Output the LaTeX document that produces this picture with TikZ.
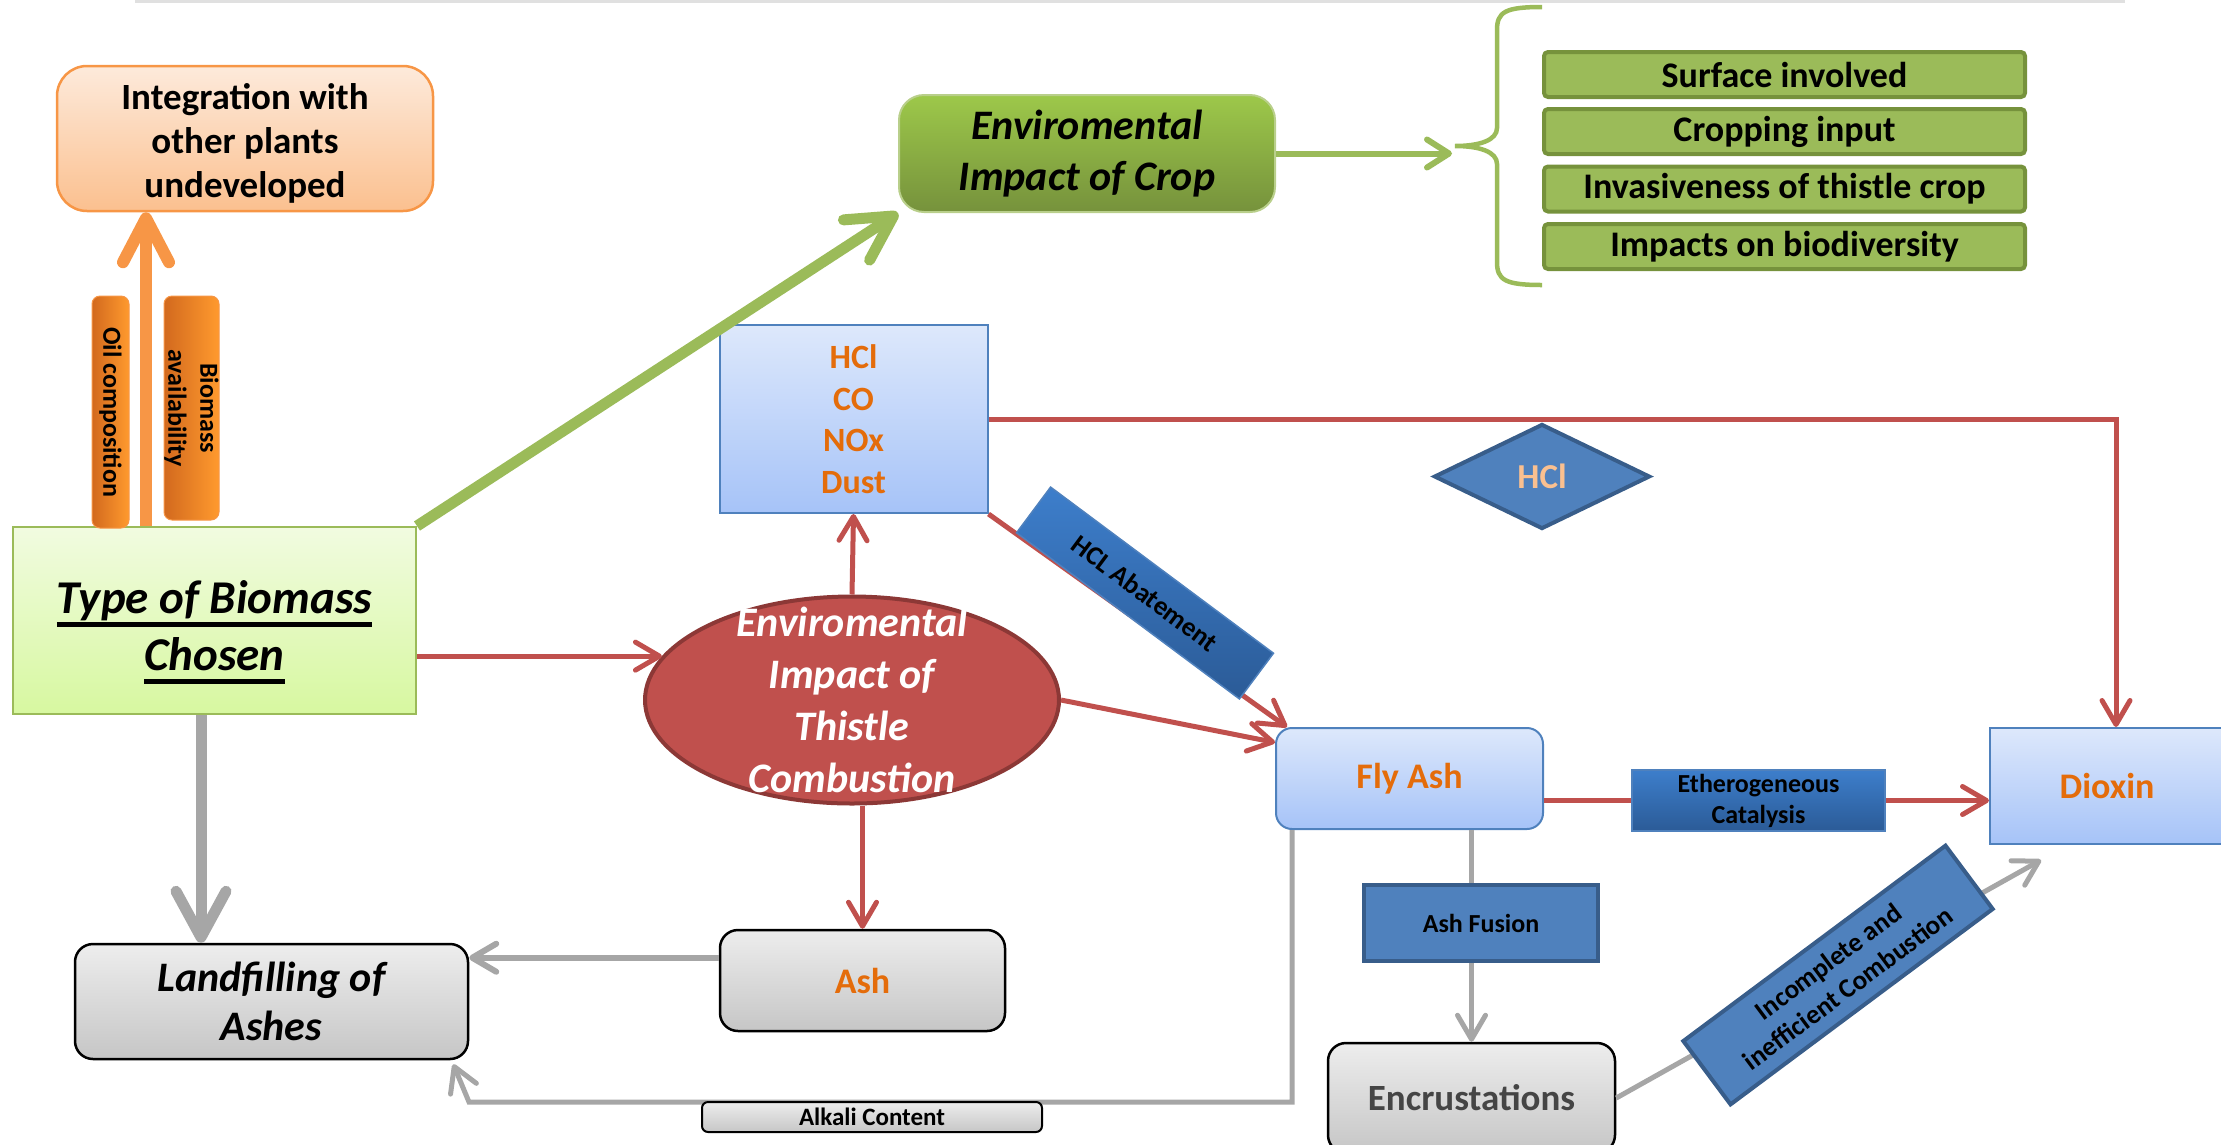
\documentclass[tikz,border=0pt]{standalone}
\usepackage{fontspec}
\setmainfont{Carlito}
\usetikzlibrary{arrows.meta,shapes.geometric}

\definecolor{orangeline}{HTML}{F79646}
\definecolor{orangedark}{HTML}{D2691E}
\definecolor{orangebright}{HTML}{FF9A2E}
\definecolor{orangetext}{HTML}{E46C0A}
\definecolor{peachtop}{HTML}{FDEADB}
\definecolor{peachbot}{HTML}{FBC08F}
\definecolor{greenline}{HTML}{9BBB59}
\definecolor{greendark}{HTML}{76923C}
\definecolor{greentop}{HTML}{9DC84A}
\definecolor{limetop}{HTML}{F1FBE0}
\definecolor{limebot}{HTML}{D7F8A0}
\definecolor{redline}{HTML}{C0504D}
\definecolor{reddark}{HTML}{8C3836}
\definecolor{blueline}{HTML}{4F81BD}
\definecolor{bluedark}{HTML}{385D8A}
\definecolor{bluetop}{HTML}{DDE8FB}
\definecolor{bluebot}{HTML}{A6C3F8}
\definecolor{tagtop}{HTML}{3D7ECB}
\definecolor{tagbot}{HTML}{2B5B97}
\definecolor{grayline}{HTML}{A6A6A6}
\definecolor{graytop}{HTML}{EDEDED}
\definecolor{graybot}{HTML}{C6C6C6}
\definecolor{hcltext}{HTML}{FAC090}
\definecolor{encrtext}{HTML}{454545}

\newsavebox{\ulsave}
\newcommand{\thickul}[1]{\sbox{\ulsave}{#1}\rlap{\rule[-13pt]{\wd\ulsave}{5pt}}\usebox{\ulsave}}

\tikzset{
  bluebox/.style={draw=blueline, line width=2pt, top color=bluetop, bottom color=bluebot,
    inner sep=0pt, align=center, text=orangetext, font=\bfseries\fontsize{36}{43}\selectfont},
  graybox/.style={draw=black, line width=2.5pt, rounded corners=18pt, top color=graytop,
    bottom color=graybot, inner sep=0pt, align=center},
  tagbox/.style={draw=bluedark, line width=4pt, fill=blueline, inner sep=0pt, align=center,
    font=\bfseries\fontsize{26}{31}\selectfont},
  gradtag/.style={draw=blueline, line width=1.5pt, top color=tagtop, bottom color=tagbot,
    inner sep=0pt, align=center, font=\bfseries\fontsize{26}{31}\selectfont},
  tab/.style={draw=orangeline, line width=1pt, rounded corners=8pt, left color=orangedark,
    right color=orangebright, inner sep=0pt, align=center, font=\bfseries\fontsize{26}{32}\selectfont},
  itembox/.style={draw=greendark, line width=4pt, fill=greenline, rounded corners=4pt,
    minimum width=481pt, minimum height=45pt, inner sep=0pt, font=\bfseries\fontsize{36}{43}\selectfont},
  redarr/.style={draw=redline, line width=5pt, -{Straight Barb[length=24pt,width=28pt,round]}},
  grayarr/.style={draw=grayline, line width=5pt, -{Straight Barb[length=24pt,width=28pt,round]}}
}

\begin{document}
\begin{tikzpicture}[x=1pt,y=-1pt]
  \useasboundingbox (0,0) rectangle (2221,1144);
  \draw[black!12, line width=3pt] (135,1) -- (2125,1);

  \node[draw=orangeline, line width=2.5pt, rounded corners=30pt, top color=peachtop, bottom color=peachbot,
    minimum width=376pt, minimum height=145pt, inner sep=0pt, align=center,
    font=\bfseries\fontsize{37}{44}\selectfont] (integ) at (245,138.5) {\rule{0pt}{36pt}Integration with\\other plants\\undeveloped};
  \node[draw=greenline, line width=2pt, top color=limetop, bottom color=limebot,
    minimum width=403pt, minimum height=187pt, inner sep=0pt, align=center,
    font=\bfseries\itshape\fontsize{47}{57}\selectfont] (type) at (214.5,620.5) {\rule{0pt}{56pt}\thickul{Type of Biomass}\\\thickul{Chosen}};
  \node[tab, rotate=-90, minimum width=232pt, minimum height=37pt] (oil) at (110.5,412) {Oil composition};
  \node[tab, rotate=-90, minimum width=224pt, minimum height=55pt] (avail) at (191.5,408) {Biomass\\availability};

  \node[draw=greenline!70, line width=2pt, rounded corners=25pt, top color=greentop, bottom color=greendark,
    minimum width=376pt, minimum height=117pt, inner sep=0pt, align=center,
    font=\bfseries\itshape\fontsize{42}{51}\selectfont] (crop) at (1087,153.5) {Enviromental\\Impact of Crop};
  \foreach \y/\txt [count=\i] in {74.5/Surface involved, 131.5/Cropping input,
      189/Invasiveness of thistle crop, 246.5/Impacts on biodiversity}
    \node[itembox] (item\i) at (1784.5,\y) {\txt};

  \node[bluebox, minimum width=268pt, minimum height=188pt, font=\bfseries\fontsize{34}{41.5}\selectfont]
    (emis) at (853.5,419) {HCl\\CO\\NOx\\Dust};
  \node[diamond, draw=bluedark, line width=4pt, fill=blueline, minimum width=216pt, minimum height=105pt,
    inner sep=0pt, text=hcltext, font=\bfseries\fontsize{35}{42}\selectfont] (hcl) at (1542,476.5) {HCl};
  \node[ellipse, draw=reddark, line width=4pt, fill=redline, minimum width=414pt, minimum height=207pt,
    inner xsep=0pt, inner ysep=-30pt, text=white, align=center,
    font=\bfseries\itshape\fontsize{42}{52}\selectfont] (thistle) at (852,700) {Enviromental\\Impact of\\Thistle\\Combustion};

  \node[bluebox, rounded corners=16pt, minimum width=267pt, minimum height=101pt] (flyash) at (1409.5,778.5) {Fly Ash};
  \node[bluebox, minimum width=234pt, minimum height=116pt] (dioxin) at (2107,786) {Dioxin};
  \node[graybox, minimum width=285pt, minimum height=101pt, text=orangetext,
    font=\bfseries\fontsize{36}{43}\selectfont] (ash) at (862.5,980.5) {Ash};
  \node[graybox, minimum width=393pt, minimum height=115pt,
    font=\bfseries\itshape\fontsize{42}{49}\selectfont] (landfill) at (271.5,1001.5) {Landfilling of\\Ashes};
  \node[graybox, minimum width=287pt, minimum height=110pt, text=encrtext,
    font=\bfseries\fontsize{37}{44}\selectfont] (encrust) at (1471.5,1098) {Encrustations};

  \coordinate (oilx) at (146,0);
  \coordinate (dropx) at (201,0);
  \coordinate (brtip) at (1452,153.5);
  \coordinate (catc) at (1758.5,800.5);
  \coordinate (dioxtop) at ([xshift=9pt]dioxin.north);
  \coordinate (alk1) at (1292,1102);
  \coordinate (alk2) at (469,1102);

  \draw[orangeline, line width=12pt, -{Straight Barb[length=44pt,width=46pt,round]}] (type.north -| oilx) -- (integ.south -| oilx);
  \draw[greenline, line width=11pt, -{Straight Barb[length=44pt,width=48pt,round]}] (type.north east) -- (crop.south west);
  \draw[greenline, line width=6pt, -{Straight Barb[length=22pt,width=28pt,round]}] (crop.east) -- (brtip);
  \draw[greenline, line width=4.5pt] (1542,7) .. controls (1505,7) and (1497,12) .. (1497,30) -- (1497,128)
    .. controls (1497,140) and (1480,146) .. (1455,146) .. controls (1480,146) and (1497,152) .. (1497,164)
    -- (1497,262) .. controls (1497,280) and (1505,285) .. (1542,285);

  \draw[redarr] (emis.east) -- (emis.east -| dioxtop) -- (dioxtop);
  \draw[redarr] (emis.south east) -- ([xshift=12pt]flyash.north west);
  \draw[redarr] (type.east |- thistle.167) -- (thistle.167);
  \draw[redarr] (thistle.north) -- (emis.south);
  \draw[redarr] (thistle.east) -- (flyash.165);
  \draw[redarr] (thistle.south -| ash.north) -- (ash.north);
  \draw[redarr] (flyash.east |- catc) -- (dioxin.west |- catc);

  \draw[grayline, line width=11pt, -{Straight Barb[length=46pt,width=50pt,round]}] (type.south -| dropx) -- (landfill.north -| dropx);
  \draw[grayarr, line width=6pt] (ash.171) -- (landfill.east |- ash.171);
  \draw[grayarr] (flyash.south -| encrust.north) -- (encrust.north);
  \draw[grayarr] (encrust.east) -- ([shift={(52pt,-15pt)}]dioxin.south west);
  \draw[grayarr] (flyash.south -| alk1) -- (alk1) -- (alk2) -- ([shift={(-16pt,-4pt)}]landfill.south east);

  \node[gradtag, rotate=-36.7, minimum width=278pt, minimum height=57pt,
    font=\bfseries\fontsize{27}{32}\selectfont] (abate) at (1145,593) {HCL Abatement};
  \node[tagbox, minimum width=234pt, minimum height=76pt] (fusion) at (1481,923) {Ash Fusion};
  \node[gradtag, minimum width=253pt, minimum height=61pt] (catal) at (catc) {Etherogeneous\\Catalysis};
  \node[tagbox, rotate=36.7, minimum width=327pt, minimum height=79pt,
    font=\bfseries\fontsize{27}{33}\selectfont] (incompl) at (1838,975) {Incomplete and\\inefficient Combustion};
  \node[graybox, rounded corners=6pt, line width=2pt, minimum width=340pt, minimum height=30pt,
    font=\bfseries\fontsize{25}{30}\selectfont] (alkali) at (872,1117) {Alkali Content};
\end{tikzpicture}
\end{document}
